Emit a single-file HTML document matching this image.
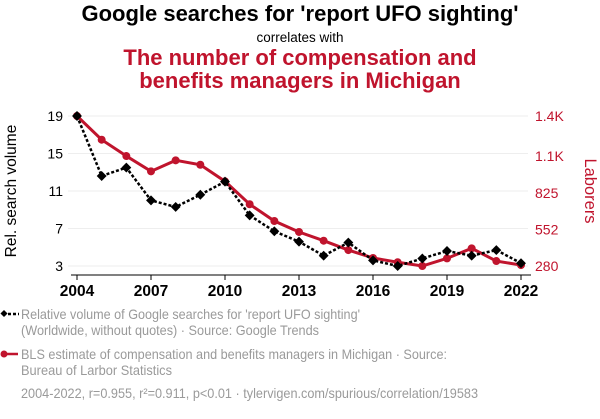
<!DOCTYPE html>
<html><head><meta charset="utf-8"><style>
body{margin:0;background:#fff;width:600px;height:414px;overflow:hidden}
svg{font-family:"Liberation Sans",Arial,sans-serif}
</style></head><body>
<svg id="chart" width="600" height="414" viewBox="0 0 600 414">
<text x="300" y="21" text-anchor="middle" font-size="22" font-weight="bold" fill="#000">Google searches for 'report UFO sighting'</text>
<text x="300" y="42" text-anchor="middle" font-size="13.5" fill="#000">correlates with</text>
<text x="300" y="65" text-anchor="middle" font-size="22" font-weight="bold" fill="#c0142d">The number of compensation and</text>
<text x="300" y="88" text-anchor="middle" font-size="22" font-weight="bold" fill="#c0142d">benefits managers in Michigan</text>
<g id="grid"></g>
<g id="axes"></g>
<g id="series"></g>
<text transform="translate(16,191) rotate(-90)" text-anchor="middle" font-size="15.5" fill="#000">Rel. search volume</text>
<text transform="translate(585,191) rotate(90)" text-anchor="middle" font-size="16.5" fill="#c0142d">Laborers</text>
<g>
<g>
<line x1="3" y1="314" x2="19" y2="314" stroke="#000" stroke-width="2.5" stroke-dasharray="3,2"/>
<rect x="1.5" y="311" width="5" height="5" transform="rotate(45 4 313.5)" fill="#000"/>
<text x="21" y="319" font-size="14" fill="#9a9a9a" textLength="339" lengthAdjust="spacingAndGlyphs">Relative volume of Google searches for 'report UFO sighting'</text>
<text x="21" y="335" font-size="14" fill="#9a9a9a" textLength="298" lengthAdjust="spacingAndGlyphs">(Worldwide, without quotes) · Source: Google Trends</text>
</g>
<g>
<line x1="3" y1="354" x2="18" y2="354" stroke="#c0142d" stroke-width="2.5"/>
<circle cx="4" cy="354" r="3.5" fill="#c0142d"/>
<text x="21" y="359" font-size="14" fill="#9a9a9a" textLength="426" lengthAdjust="spacingAndGlyphs">BLS estimate of compensation and benefits managers in Michigan · Source:</text>
<text x="21" y="375" font-size="14" fill="#9a9a9a" textLength="151" lengthAdjust="spacingAndGlyphs">Bureau of Larbor Statistics</text>
</g>
</g>
<text x="21" y="398" font-size="14" fill="#9a9a9a" textLength="457" lengthAdjust="spacingAndGlyphs">2004-2022, r=0.955, r²=0.911, p&lt;0.01 · tylervigen.com/spurious/correlation/19583</text>
</svg>
<script>
const years=[2004,2005,2006,2007,2008,2009,2010,2011,2012,2013,2014,2015,2016,2017,2018,2019,2020,2021,2022];
const searches=[19,12.6,13.5,10.0,9.3,10.6,12.0,8.4,6.7,5.6,4.1,5.5,3.6,3.0,3.8,4.6,4.1,4.7,3.3];
const managers=[1400,1223,1101,987,1069,1036,912,741,616,534,469,399,340,308,280,337,412,317,287];
const xTicks=[2004,2007,2010,2013,2016,2019,2022];
const leftTicks=[3,7,11,15,19];
const rightTickVals=[280,552,825,1100,1400];
const rightTickLabels=['280','552','825','1.1K','1.4K'];
const NS='http://www.w3.org/2000/svg';
const x=v=>77+(v-2004)*(521-77)/18;
const yL=v=>266-(v-3)*150/16;
const yR=v=>266-(v-280)*150/1120;
function mk(t,a,p){const e=document.createElementNS(NS,t);for(const k in a)e.setAttribute(k,a[k]);p.appendChild(e);return e;}
const grid=document.getElementById('grid'),axes=document.getElementById('axes'),ser=document.getElementById('series');
leftTicks.forEach(v=>{
 const g=mk('line',{x1:68,x2:528,y1:yL(v),y2:yL(v),stroke:'#eeeeee','stroke-width':1},grid);
 
 
 const t=mk('text',{x:63,y:yL(v)+5,'text-anchor':'end','font-size':14,fill:'#000'},axes);
 t.textContent=v;
 
 
});
rightTickVals.forEach((v,i)=>{
 const t=mk('text',{x:535,y:yR(v)+5,'font-size':14,fill:'#c0142d'},axes);
 t.textContent=rightTickLabels[i];
 
 
});
const ax=mk('line',{x1:71,x2:531,y1:275,y2:275,stroke:'#000','stroke-width':1},axes);


xTicks.forEach(v=>{
 const tk=mk('line',{x1:x(v),x2:x(v),y1:275,y2:280,stroke:'#000'},axes);
 
 
 const t=mk('text',{x:x(v),y:296,'text-anchor':'middle','font-size':15.5,'font-weight':'bold',fill:'#000'},axes);
 t.textContent=v;
 
 
});
const rp=mk('polyline',{points:years.map((y,i)=>x(y)+','+yR(managers[i])).join(' '),fill:'none',stroke:'#c0142d','stroke-width':3},ser);


years.forEach((y,i)=>{const c=mk('circle',{cx:x(y),cy:yR(managers[i]),r:4,fill:'#c0142d'},ser);
 
 });
const bp=mk('polyline',{points:years.map((y,i)=>x(y)+','+yL(searches[i])).join(' '),fill:'none',stroke:'#000','stroke-width':2.5,'stroke-dasharray':'3,2'},ser);


years.forEach((y,i)=>{const cx=x(y),cy=yL(searches[i]);
 const d=mk('rect',{x:cx-3.5,y:cy-3.5,width:7,height:7,fill:'#000',transform:`rotate(45 ${cx} ${cy})`},ser);
 
 });
</script>
</body></html>
